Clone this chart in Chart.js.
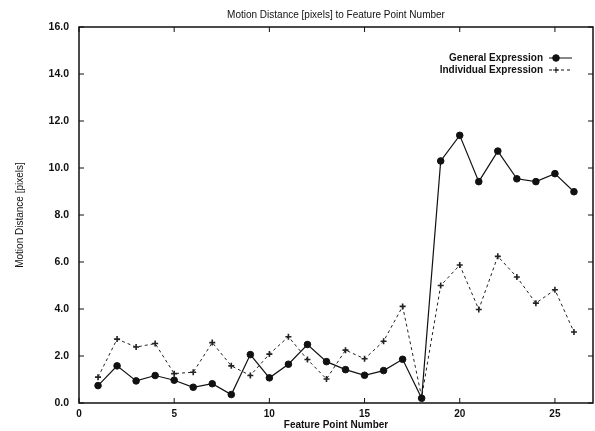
<!DOCTYPE html>
<html><head><meta charset="utf-8">
<script src="https://cdn.jsdelivr.net/npm/chart.js@4"></script>
<style>html,body{margin:0;padding:0;background:#fff}#c{display:block}</style>
</head><body>
<canvas id="c" width="595" height="431"></canvas>
<script>
const featurePoints = [1,2,3,4,5,6,7,8,9,10,11,12,13,14,15,16,17,18,19,20,21,22,23,24,25,26];
const generalExpr = [0.74,1.58,0.94,1.17,0.97,0.67,0.82,0.36,2.06,1.07,1.65,2.49,1.76,1.42,1.18,1.38,1.86,0.20,10.30,11.39,9.42,10.72,9.54,9.42,9.76,8.99];
const individualExpr = [1.10,2.72,2.38,2.53,1.25,1.31,2.57,1.58,1.17,2.08,2.82,1.85,1.02,2.25,1.88,2.63,4.11,0.25,5.00,5.87,3.98,6.24,5.36,4.25,4.82,3.02];
const xTicks = [0,5,10,15,20,25];
const yTicks = [0,2,4,6,8,10,12,14,16];

const FONT = "'Liberation Sans', Arial, sans-serif";

const framePlugin = {
  id: 'frame',
  afterDraw(chart) {
    const {ctx, chartArea: a, scales} = chart;
    ctx.save();
    ctx.strokeStyle = '#111';
    ctx.lineWidth = 1.5;
    ctx.strokeRect(a.left, a.top, a.right - a.left, a.bottom - a.top);
    ctx.lineWidth = 1;
    xTicks.forEach(v => {
      const x = scales.x.getPixelForValue(v);
      ctx.beginPath(); ctx.moveTo(x, a.bottom); ctx.lineTo(x, a.bottom - 5);
      ctx.moveTo(x, a.top); ctx.lineTo(x, a.top + 5); ctx.stroke();
    });
    yTicks.forEach(v => {
      const y = scales.y.getPixelForValue(v);
      ctx.beginPath(); ctx.moveTo(a.left, y); ctx.lineTo(a.left + 5, y);
      ctx.moveTo(a.right, y); ctx.lineTo(a.right - 5, y); ctx.stroke();
    });
    // legend
    ctx.font = "bold 10px " + FONT;
    ctx.fillStyle = '#111';
    ctx.textAlign = 'right';
    ctx.textBaseline = 'middle';
    const lx = 543, ly = [58, 70];
    chart.data.datasets.forEach((ds, i) => {
      ctx.fillText(ds.label, lx, ly[i]);
      ctx.strokeStyle = '#111';
      ctx.lineWidth = 1;
      ctx.setLineDash(ds.borderDash || []);
      ctx.beginPath(); ctx.moveTo(549, ly[i]); ctx.lineTo(572, ly[i]); ctx.stroke();
      ctx.setLineDash([]);
      const meta = chart.getDatasetMeta(i);
      const pt = meta.data[0];
      if (pt) {
        const opts = Object.assign({}, pt.options);
        Chart.helpers.drawPoint(ctx, opts, 556, ly[i]);
      }
    });
    ctx.restore();
  }
};

new Chart(document.getElementById('c'), {
  type: 'line',
  data: {
    labels: featurePoints,
    datasets: [
      {
        label: 'General Expression',
        data: featurePoints.map((x, i) => ({x, y: generalExpr[i]})),
        borderColor: '#111', backgroundColor: '#111', borderWidth: 1.2,
        pointStyle: 'circle', pointRadius: 3.3, pointBorderWidth: 1,
        pointBackgroundColor: '#111', pointBorderColor: '#111', tension: 0
      },
      {
        label: 'Individual Expression',
        data: featurePoints.map((x, i) => ({x, y: individualExpr[i]})),
        borderColor: '#222', backgroundColor: '#222', borderWidth: 1,
        borderDash: [3, 3],
        pointStyle: 'cross', pointRadius: 3, pointBorderWidth: 1.6,
        pointBackgroundColor: '#222', pointBorderColor: '#222', tension: 0
      }
    ]
  },
  options: {
    responsive: false, animation: false,
    layout: { autoPadding: false, padding: { left: 0, right: 2, top: 0, bottom: 0 } },
    plugins: {
      legend: { display: false },
      tooltip: { enabled: false },
      title: {
        display: true, fullSize: false,
        text: 'Motion Distance [pixels] to Feature Point Number',
        color: '#111', font: { family: FONT, size: 10, weight: 'normal' },
        padding: { top: 9, bottom: 6 }
      }
    },
    scales: {
      x: {
        type: 'linear', min: 0, max: 27,
        afterFit: s => { s.height = 28; s.paddingLeft = 0; s.paddingRight = 0; },
        grid: { display: false, drawTicks: false },
        border: { display: false },
        afterBuildTicks: s => { s.ticks = xTicks.map(v => ({value: v})); },
        ticks: { color: '#111', padding: 5, font: { family: FONT, size: 10, weight: 'bold' }, maxRotation: 0 },
        title: { display: true, text: 'Feature Point Number', color: '#111',
                 font: { family: FONT, size: 10, weight: 'bold' }, padding: { top: 3, bottom: 0 } }
      },
      y: {
        min: 0, max: 16,
        afterFit: s => { s.width = 79; s.paddingTop = 0; s.paddingBottom = 0; },
        grid: { display: false, drawTicks: false },
        border: { display: false },
        afterBuildTicks: s => { s.ticks = yTicks.map(v => ({value: v})); },
        ticks: { color: '#111', padding: 10, font: { family: FONT, size: 10.5, weight: 'bold' },
                 callback: v => v.toFixed(1) },
        title: { display: true, text: 'Motion Distance [pixels]', color: '#111',
                 font: { family: FONT, size: 10, weight: 'normal' }, padding: { top: 14, bottom: 0 } }
      }
    }
  },
  plugins: [framePlugin]
});
</script>
</body></html>
